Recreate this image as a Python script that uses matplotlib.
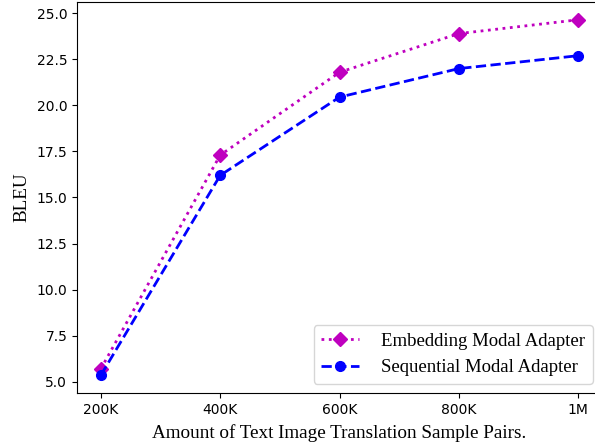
import matplotlib
matplotlib.use("Agg")
import matplotlib.pyplot as plt

categories = ["200K", "400K", "600K", "800K", "1M"]
embedding = [5.7, 17.3, 21.8, 23.9, 24.65]
sequential = [5.35, 16.2, 20.45, 22.0, 22.7]

fig = plt.figure(figsize=(5.95, 4.44), dpi=100)
ax = fig.add_axes([77/595, 1 - 393/444, (602-77)/595, (393-2)/444])
x = list(range(len(categories)))
ax.plot(x, embedding, linestyle=':', color='m', marker='D', markersize=7, linewidth=2,
        label='Embedding Modal Adapter')
ax.plot(x, sequential, linestyle='--', color='b', marker='o', markersize=7, linewidth=2,
        label='Sequential Modal Adapter')
ax.set_xticks(x)
ax.set_xticklabels(categories)
ax.set_yticks([5.0, 7.5, 10.0, 12.5, 15.0, 17.5, 20.0, 22.5, 25.0])
ax.tick_params(labelsize=10)
ax.set_xlabel('Amount of Text Image Translation Sample Pairs.', family='Liberation Serif', fontsize=13.8, labelpad=5.5)
ax.set_ylabel('BLEU', family='Liberation Serif', fontsize=13.8)
ax.legend(loc='lower right', prop={'family': 'Liberation Serif', 'size': 13.5}, handletextpad=1.2)
fig.savefig('out.png', dpi=100)
